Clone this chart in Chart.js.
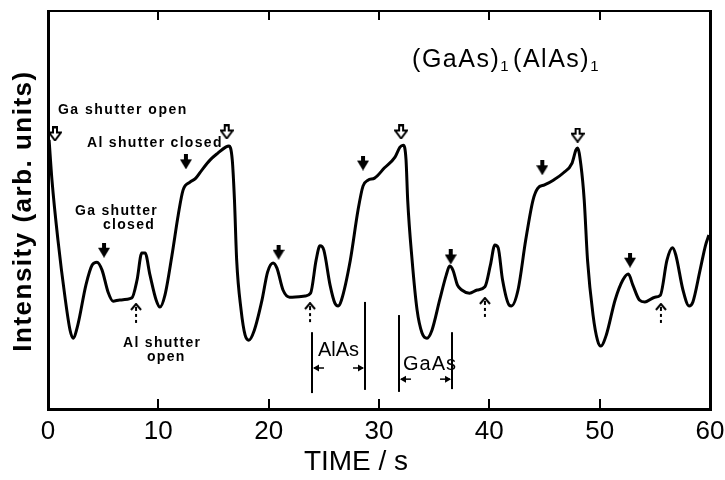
<!DOCTYPE html>
<html><head><meta charset="utf-8">
<script src="https://cdn.jsdelivr.net/npm/chart.js@4"></script>
<style>html,body{margin:0;padding:0;background:#fff}</style>
</head><body>
<canvas id="c" width="725" height="480"></canvas>
<script>
// ---- data (time in s, intensity in arb. units 0-100) ----
const timeS = [0.1,0.36,0.9,1.54,2.0,2.27,2.7,3.44,4.0,4.44,4.9,5.44,5.9,6.5,7.6,8.07,8.5,8.8,9.24,9.8,10.15,10.6,11.24,11.8,12.24,12.87,13.4,13.96,14.7,15.4,16.1,16.4,
  16.7,16.9,17.1,17.5,17.86,18.2,18.7,19.4,19.9,20.4,20.75,21.3,21.9,23.3,23.8,24.3,24.65,25.0,25.56,26.0,26.3,26.6,27.4,28.1,28.55,29.0,29.6,30.5,31.45,31.9,32.2,
  32.45,32.6,33.0,33.45,33.9,34.35,34.8,35.5,36.1,36.4,36.7,37.1,37.5,38.2,38.9,39.6,40.1,40.5,40.8,41.2,41.8,42.0,42.6,43.3,43.96,44.4,45.0,45.8,46.7,47.5,47.85,48.0,
  48.3,48.6,48.9,49.4,49.8,50.1,50.6,51.4,52.1,52.6,53.0,53.6,54.1,55.0,55.5,56.1,56.6,56.9,57.55,58.1,58.45,59.1,59.6,59.9];
const intensity = [67.6,57.5,42.5,28.1,19.8,17.8,21.1,31.2,36.2,36.9,34.9,29.4,27.1,27.4,27.9,32.4,39.2,39.2,33.7,27.4,25.6,28.6,38.7,48.7,55.0,57.0,58.0,60.1,62.6,64.3,65.8,66.1,
  62.6,52.5,37.4,24.9,18.6,17.3,19.8,27.4,34.4,36.7,35.4,29.9,28.1,28.4,29.1,37.4,41.0,39.9,31.2,26.6,25.9,27.4,37.4,50.0,56.0,57.5,58.0,60.6,63.3,65.8,66.3,
  62.6,52.5,37.4,24.9,19.1,17.8,19.8,27.4,33.7,35.9,34.9,31.2,29.9,29.1,29.9,30.7,36.2,41.2,40.5,32.4,26.1,25.9,29.9,42.5,52.5,55.5,56.3,57.5,59.3,61.8,65.1,65.6,
  61.3,52.5,37.4,23.6,17.3,15.8,18.6,27.4,32.4,33.9,31.2,27.4,26.9,28.1,28.6,37.4,40.5,38.7,29.9,25.9,26.9,34.9,41.2,43.7];
const xTickValues = [0,10,20,30,40,50,60];
// shutter event markers (time, intensity level of marker)
const closedArrowT = [5.08,12.5,20.9,28.55,36.5,44.8,52.75];
const closedArrowI = [39.9,62.1,39.4,61.8,38.2,60.6,37.4];
const gaOpenT = [0.63,16.2,32.0,48.0];
const gaOpenI = [69.1,69.6,69.6,68.8];
const alOpenT = [7.98,23.75,39.6,55.55];
const alOpenI = [23.9,24.1,25.4,23.9];

const FONT = "'Liberation Sans', Arial, sans-serif";

function mk(w,h,draw){const c=document.createElement('canvas');c.width=w;c.height=h;draw(c.getContext('2d'));return c;}
const filledArrow = mk(12,15,g=>{g.fillStyle='#000';g.fillRect(4,0,4,6);g.beginPath();g.moveTo(0,5);g.lineTo(12,5);g.lineTo(6,15);g.closePath();g.fill();});
const openArrow = mk(14,15,g=>{g.strokeStyle='#000';g.lineWidth=2;g.fillStyle='#fff';g.beginPath();g.moveTo(5,1);g.lineTo(9,1);g.lineTo(9,6);g.lineTo(13,6);g.lineTo(7,14);g.lineTo(1,6);g.lineTo(5,6);g.closePath();g.fill();g.stroke();});
const dottedArrow = mk(12,22,g=>{g.strokeStyle='#000';g.lineWidth=2;g.beginPath();g.moveTo(1,7);g.lineTo(6,1);g.lineTo(11,7);g.stroke();g.fillStyle='#000';g.fillRect(5,4,2,4);g.fillRect(5,11,2,3);g.fillRect(5,17,2,3);});

const pts = (TT,VV)=>TT.map((t,i)=>({x:t,y:VV[i]}));

const notes = [
  {text:'Ga shutter open', t:0.9, v:75.1, size:14, bold:true, sp:1.5},
  {text:'Al shutter closed', t:3.54, v:66.8, size:14, bold:true, sp:1.3},
  {text:'Ga shutter', t:2.45, v:49.7, size:14, bold:true, sp:1.3},
  {text:'closed', t:4.98, v:46.2, size:14, bold:true, sp:1.3},
  {text:'Al shutter', t:6.8, v:16.6, size:14, bold:true, sp:1.3},
  {text:'open', t:8.97, v:13.1, size:14, bold:true, sp:1.3},
  {text:'AlAs', t:24.47, v:14.6, size:20, bold:false, sp:0},
  {text:'GaAs', t:32.18, v:11.3, size:20, bold:false, sp:1}
];
const bracketLines = [[23.93,19.3,4.0],[28.73,26.9,4.8],[31.81,23.6,4.3],[36.62,19.3,5.0]];
const bracketArrows = [[23.93,10.3,1],[28.73,10.3,-1],[31.81,7.5,1],[36.62,7.5,-1]];

const framePlugin = {
  id:'frame',
  afterDraw(chart){
    const ctx=chart.ctx, xs=chart.scales.x, a=chart.chartArea;
    ctx.save();
    ctx.fillStyle='#000';
    ctx.fillRect(a.left-1,a.top-1,a.right-a.left+2,2);
    ctx.fillRect(a.left-1,a.bottom-1,a.right-a.left+2,3);
    ctx.fillRect(a.left-1,a.top-1,3,a.bottom-a.top+2);
    ctx.fillRect(a.right-1,a.top-1,3,a.bottom-a.top+3);
    for(let k=1;k<xTickValues.length-1;k++){
      const x=Math.round(xs.getPixelForValue(xTickValues[k]));
      ctx.fillRect(x-1,a.bottom-10,2,10);
      ctx.fillRect(x-1,a.top,2,9);
    }
    ctx.restore();
  }
};

const textPlugin = {
  id:'texts',
  afterDraw(chart){
    const ctx=chart.ctx, xs=chart.scales.x, ys=chart.scales.y;
    const px=t=>xs.getPixelForValue(t), py=v=>ys.getPixelForValue(v);
    ctx.save();
    ctx.fillStyle='#000'; ctx.strokeStyle='#000';
    bracketLines.forEach(([t,v1,v2])=>{const x=Math.round(px(t));ctx.fillRect(x-1,py(v1),2,py(v2)-py(v1));});
    ctx.lineWidth=1.5;
    bracketArrows.forEach(([t,v,dir])=>{
      const x=px(t), y=py(v);
      ctx.beginPath();ctx.moveTo(x+dir*12,y);ctx.lineTo(x+dir*2,y);ctx.stroke();
      ctx.beginPath();ctx.moveTo(x+dir*1,y);ctx.lineTo(x+dir*7,y-3.5);ctx.lineTo(x+dir*7,y+3.5);ctx.closePath();ctx.fill();
    });
    ctx.textBaseline='middle'; ctx.textAlign='left';
    notes.forEach(n=>{
      ctx.font=(n.bold?'bold ':'')+n.size+'px '+FONT;
      ctx.letterSpacing=n.sp+'px';
      ctx.fillText(n.text,px(n.t),py(n.v));
    });
    ctx.letterSpacing='1.5px';
    let x=px(33.0); const y=py(87.7);
    ctx.font='25px '+FONT;
    ctx.fillText('(GaAs)',x,y); x+=ctx.measureText('(GaAs)').width;
    ctx.font='15px '+FONT; ctx.fillText('1',x,y+7); x+=ctx.measureText('1').width+3;
    ctx.font='25px '+FONT; ctx.fillText('(AlAs)',x,y); x+=ctx.measureText('(AlAs)').width;
    ctx.font='15px '+FONT; ctx.fillText('1',x,y+7);
    ctx.letterSpacing='0px';
    ctx.textAlign='center';
    ctx.font='28px '+FONT;
    ctx.fillText('TIME / s',356,462);
    ctx.translate(24,211); ctx.rotate(-Math.PI/2);
    ctx.font='bold 26px '+FONT; ctx.letterSpacing='1.5px';
    ctx.fillText('Intensity (arb. units)',0,0);
    ctx.restore();
    ctx.letterSpacing='0px';
  }
};

const setTicks = s=>{s.ticks=xTickValues.map(v=>({value:v}));};

new Chart(document.getElementById('c'),{
  type:'line',
  data:{datasets:[
    {data:pts(timeS,intensity),borderColor:'#000',borderWidth:3,pointRadius:0,fill:false,cubicInterpolationMode:'monotone'},
    {data:pts(closedArrowT,closedArrowI),showLine:false,pointStyle:filledArrow,pointRadius:6},
    {data:pts(gaOpenT,gaOpenI),showLine:false,pointStyle:openArrow,pointRadius:6},
    {data:pts(alOpenT,alOpenI),showLine:false,pointStyle:dottedArrow,pointRadius:6}
  ]},
  options:{
    responsive:false, animation:false, devicePixelRatio:1,
    layout:{padding:0},
    plugins:{legend:{display:false},tooltip:{enabled:false}},
    scales:{
      x:{type:'linear',position:'bottom',min:0,max:60,
        afterBuildTicks:setTicks,
        afterFit:s=>{s.height=71;s.paddingLeft=0;s.paddingRight=0;},
        ticks:{color:'#000',font:{family:FONT,size:26},padding:17,maxRotation:0,autoSkip:false},
        grid:{display:true,drawOnChartArea:false,drawTicks:true,tickLength:-10,color:'#000',lineWidth:2},
        border:{display:true,color:'#000',width:3}},
      xTop:{type:'linear',position:'top',min:0,max:60,
        afterBuildTicks:setTicks,
        afterFit:s=>{s.height=11;s.paddingLeft=0;s.paddingRight=0;},
        ticks:{display:false},
        grid:{display:true,drawOnChartArea:false,drawTicks:true,tickLength:-9,color:'#000',lineWidth:2},
        border:{display:true,color:'#000',width:2}},
      y:{type:'linear',position:'left',min:0,max:100,
        afterFit:s=>{s.width=48;},
        ticks:{display:false},grid:{display:false},
        border:{display:true,color:'#000',width:3}},
      yRight:{type:'linear',position:'right',min:0,max:100,
        afterFit:s=>{s.width=15;},
        ticks:{display:false},grid:{display:false},
        border:{display:true,color:'#000',width:3}}
    }
  },
  plugins:[framePlugin,textPlugin]
});
</script>
</body></html>
